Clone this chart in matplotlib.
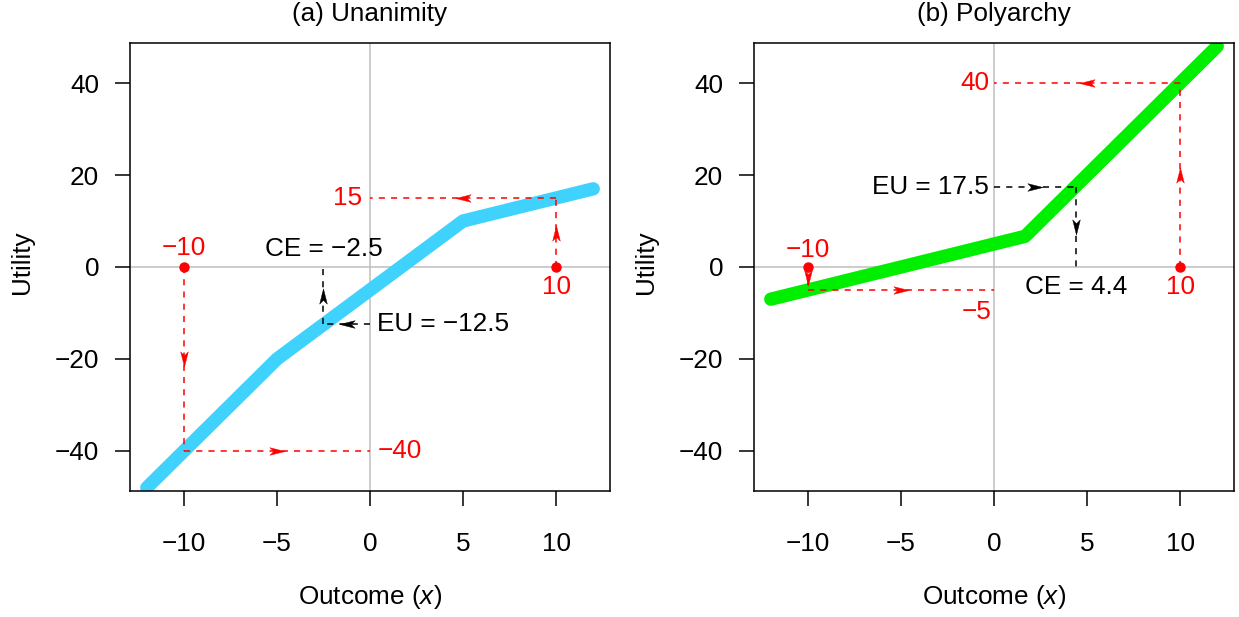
import matplotlib
matplotlib.use("Agg")
import matplotlib.pyplot as plt
from matplotlib.path import Path

plt.rcParams['font.family'] = ['Liberation Sans', 'DejaVu Sans']
plt.rcParams['mathtext.fontset'] = 'custom'
plt.rcParams['mathtext.rm'] = 'Liberation Sans'
plt.rcParams['mathtext.it'] = 'Liberation Sans:italic'

# Utility curves (piecewise linear breakpoints)
unan_x = [-12, -5, 5, 12]
unan_u = [-48, -20, 10, 17]
poly_x = [-12, 1.67, 12]
poly_u = [-7, 6.67, 48]

# Lottery: two equally likely outcomes
outcomes = [-10, 10]
unan_util = [-40, 15]
poly_util = [-5, 40]
unan_eu, unan_ce = -12.5, -2.5
poly_eu, poly_ce = 17.5, 4.4

titles = ["(a) Unanimity", "(b) Polyarchy"]
x_ticks = [-10, -5, 0, 5, 10]
y_ticks = [-40, -20, 0, 20, 40]

FS = 18.8
RED = '#FF0000'
BLUE = '#3ED2FC'
GREEN = '#00EE00'


def fmt(v):
    return f"{v:g}".replace('-', '\u2212')


def arrow_marker(direction):
    base = [(1, 0), (-1, 0.5), (-0.5, 0), (-1, -0.5), (1, 0)]
    rot = {'right': lambda x, y: (x, y), 'left': lambda x, y: (-x, y),
           'up': lambda x, y: (-y, x), 'down': lambda x, y: (y, -x)}[direction]
    verts = [rot(x, y) for x, y in base]
    codes = [Path.MOVETO, Path.LINETO, Path.LINETO, Path.LINETO, Path.CLOSEPOLY]
    return Path(verts, codes)


def dashed_arrow(ax, p0, p1, color):
    ax.plot([p0[0], p1[0]], [p0[1], p1[1]], color=color, lw=1.1,
            ls=(0, (4, 4)), zorder=4)
    mx, my = (p0[0] + p1[0]) / 2, (p0[1] + p1[1]) / 2
    if p0[0] == p1[0]:
        d = 'up' if p1[1] > p0[1] else 'down'
    else:
        d = 'right' if p1[0] > p0[0] else 'left'
    ax.plot([mx], [my], marker=arrow_marker(d), ms=11, color=color,
            mec=color, mew=0.3, zorder=5)


fig = plt.figure(figsize=(12.39, 6.17), dpi=100)
W, H = 1239, 617
axes = [fig.add_axes([130 / W, (617 - 491) / H, 480 / W, 448 / H]),
        fig.add_axes([754 / W, (617 - 491) / H, 480 / W, 448 / H])]

panels = [
    (unan_x, unan_u, BLUE, unan_util, unan_eu, unan_ce),
    (poly_x, poly_u, GREEN, poly_util, poly_eu, poly_ce),
]

for i, (ax, (cx, cu, col, util, eu, ce)) in enumerate(zip(axes, panels)):
    ax.set_xlim(-12.9, 12.9)
    ax.set_ylim(-48.7, 48.7)
    ax.axhline(0, color='#BEBEBE', lw=1.1, zorder=1)
    ax.axvline(0, color='#BEBEBE', lw=1.1, zorder=1)
    ax.plot(cx, cu, color=col, lw=9.6, solid_capstyle='round',
            solid_joinstyle='round', zorder=2)

    # Lottery outcomes mapped through the utility curve
    for xo, uo in zip(outcomes, util):
        dashed_arrow(ax, (xo, 0), (xo, uo), RED)
        dashed_arrow(ax, (xo, uo), (0, uo), RED)
        ax.plot([xo], [0], 'o', color=RED, ms=6.5, zorder=6)

    # Expected utility back to certainty equivalent
    dashed_arrow(ax, (0, eu), (ce, eu), 'black')
    dashed_arrow(ax, (ce, eu), (ce, 0), 'black')

    ax.set_xticks(x_ticks)
    ax.set_yticks(y_ticks)
    ax.set_xticklabels([fmt(t) for t in x_ticks])
    ax.set_yticklabels([fmt(t) for t in y_ticks])
    ax.tick_params(axis='both', labelsize=FS, length=10.8, width=1.1,
                   direction='out')
    ax.tick_params(axis='x', pad=18.5)
    ax.tick_params(axis='y', pad=11.5)
    for s in ax.spines.values():
        s.set_linewidth(1.1)

    ax.text(0.5, 1.049, titles[i], transform=ax.transAxes, ha='center',
            va='baseline', fontsize=FS)
    ax.text(0.5, -0.252, "Outcome ($x$)", transform=ax.transAxes,
            ha='center', va='baseline', fontsize=FS)
    ax.text(-0.224, 0.51, "Utility", transform=ax.transAxes, rotation=90,
            ha='center', va='center', fontsize=FS)

ax_a, ax_b = axes
# Panel (a) labels
ax_a.text(outcomes[0], 4.1, fmt(outcomes[0]), color=RED, ha='center', va='center', fontsize=FS)
ax_a.text(outcomes[1], -4.3, fmt(outcomes[1]), color=RED, ha='center', va='center', fontsize=FS)
ax_a.text(-0.4, unan_util[1], fmt(unan_util[1]), color=RED, ha='right', va='center', fontsize=FS)
ax_a.text(0.4, unan_util[0], fmt(unan_util[0]), color=RED, ha='left', va='center', fontsize=FS)
ax_a.text(0.4, unan_eu, f"EU = {fmt(unan_eu)}", ha='left', va='center', fontsize=FS)
ax_a.text(unan_ce, 3.9, f"CE = {fmt(unan_ce)}", ha='center', va='center', fontsize=FS)

# Panel (b) labels
ax_b.text(outcomes[0], 3.8, fmt(outcomes[0]), color=RED, ha='center', va='center', fontsize=FS)
ax_b.text(outcomes[1], -4.3, fmt(outcomes[1]), color=RED, ha='center', va='center', fontsize=FS)
ax_b.text(-0.25, poly_util[1], fmt(poly_util[1]), color=RED, ha='right', va='center', fontsize=FS)
ax_b.text(-0.15, -9.8, fmt(poly_util[0]), color=RED, ha='right', va='center', fontsize=FS)
ax_b.text(-0.3, poly_eu, f"EU = {fmt(poly_eu)}", ha='right', va='center', fontsize=FS)
ax_b.text(poly_ce, -4.3, f"CE = {fmt(poly_ce)}", ha='center', va='center', fontsize=FS)

fig.savefig("out.png", dpi=100)
